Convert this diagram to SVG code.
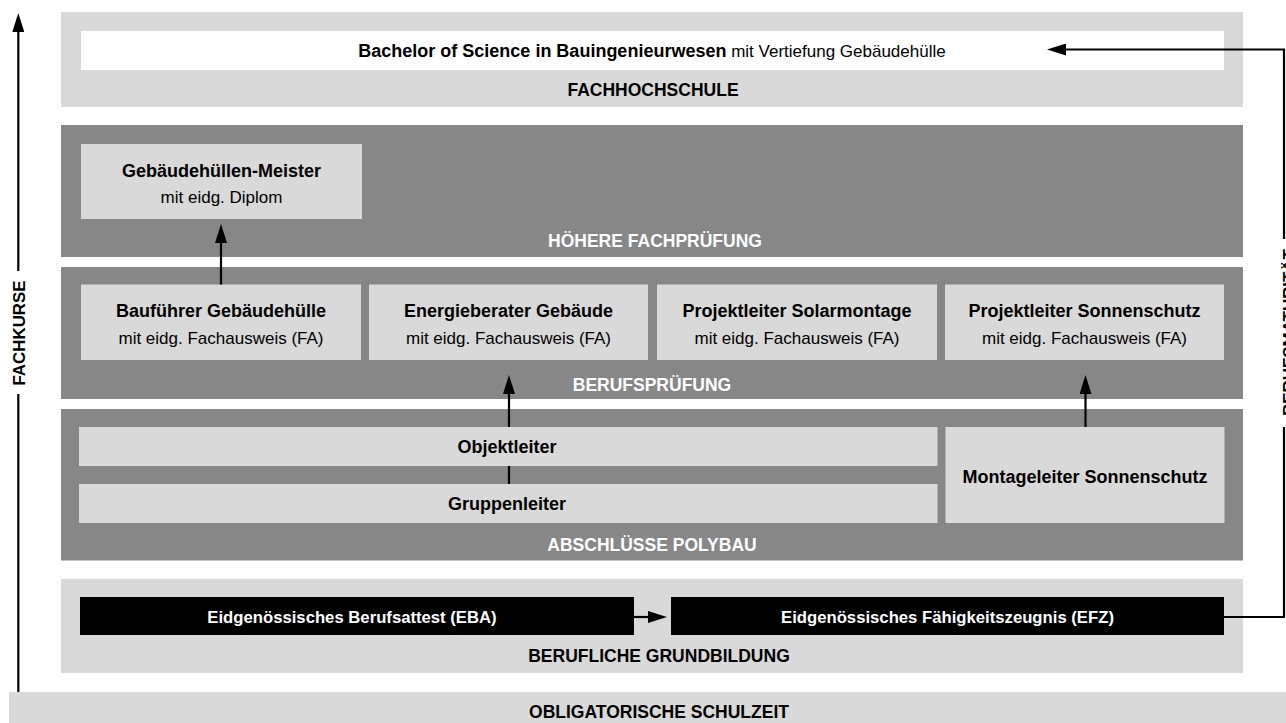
<svg xmlns="http://www.w3.org/2000/svg" width="1286" height="723" viewBox="0 0 1286 723">
  <style>
    .light { fill: #d9d9d9; }
    .dark { fill: #878787; }
    .white { fill: #ffffff; }
    .black { fill: #000000; }
    text { font-family: "Liberation Sans", Arial, sans-serif; text-anchor: middle; }
    .lbl { font-weight: bold; font-size: 17.5px; fill: #000; }
    .lblw { font-weight: bold; font-size: 17.5px; fill: #fff; }
    .ttl { font-weight: bold; font-size: 18px; fill: #000; }
    .sub { font-size: 17px; fill: #000; }
    .wb { font-weight: bold; font-size: 16.7px; fill: #fff; }
    .side { font-weight: bold; font-size: 16.9px; fill: #000; }
    .conn { fill: none; stroke: #000; stroke-width: 2.2; }
  </style>
  <defs>
    <marker id="ah" markerUnits="userSpaceOnUse" markerWidth="20" markerHeight="12" refX="1" refY="6" orient="auto">
      <path d="M0,0 L19,6 L0,12 Z" fill="#000"/>
    </marker>
  </defs>

  <!-- Panels -->
  <g id="fachhochschule">
    <rect class="light" x="61" y="12" width="1182" height="95"/>
    <text class="lbl" x="653" y="96">FACHHOCHSCHULE</text>
  </g>
  <g id="bachelor">
    <rect class="white" x="81" y="31" width="1143" height="39"/>
    <text x="652" y="57" style="font-size:17px"><tspan font-weight="bold" style="font-size:18px">Bachelor of Science in Bauingenieurwesen</tspan> mit Vertiefung Gebäudehülle</text>
  </g>

  <g id="hoehere-fachpruefung">
    <rect class="dark" x="61" y="125" width="1182" height="132"/>
    <text class="lblw" x="655" y="247">HÖHERE FACHPRÜFUNG</text>
  </g>
  <g id="meister">
    <rect class="light" x="81" y="144" width="281" height="75"/>
    <text class="ttl" x="221.5" y="177">Gebäudehüllen-Meister</text>
    <text class="sub" x="221.5" y="203">mit eidg. Diplom</text>
  </g>

  <g id="berufspruefung">
    <rect class="dark" x="61" y="267" width="1182" height="132"/>
    <text class="lblw" x="652" y="391">BERUFSPRÜFUNG</text>
  </g>
  <g id="baufuehrer">
    <rect class="light" x="81" y="284.5" width="280" height="75.5"/>
    <text class="ttl" x="221" y="317">Bauführer Gebäudehülle</text>
    <text class="sub" x="221" y="344">mit eidg. Fachausweis (FA)</text>
  </g>
  <g id="energieberater">
    <rect class="light" x="369" y="284.5" width="279" height="75.5"/>
    <text class="ttl" x="508.5" y="317">Energieberater Gebäude</text>
    <text class="sub" x="508.5" y="344">mit eidg. Fachausweis (FA)</text>
  </g>
  <g id="solarmontage">
    <rect class="light" x="657" y="284.5" width="280" height="75.5"/>
    <text class="ttl" x="797" y="317">Projektleiter Solarmontage</text>
    <text class="sub" x="797" y="344">mit eidg. Fachausweis (FA)</text>
  </g>
  <g id="sonnenschutz">
    <rect class="light" x="945" y="284.5" width="279" height="75.5"/>
    <text class="ttl" x="1084.5" y="317">Projektleiter Sonnenschutz</text>
    <text class="sub" x="1084.5" y="344">mit eidg. Fachausweis (FA)</text>
  </g>

  <g id="abschluesse-polybau">
    <rect class="dark" x="61" y="409" width="1182" height="151.5"/>
    <text class="lblw" x="652" y="550.5">ABSCHLÜSSE POLYBAU</text>
  </g>
  <g id="objektleiter">
    <rect class="light" x="79" y="427" width="858.5" height="39"/>
    <text class="ttl" x="507" y="453.3">Objektleiter</text>
  </g>
  <g id="gruppenleiter">
    <rect class="light" x="79" y="484" width="858.5" height="39"/>
    <text class="ttl" x="507" y="510">Gruppenleiter</text>
  </g>
  <g id="montageleiter">
    <rect class="light" x="945.5" y="427" width="279" height="96"/>
    <text class="ttl" x="1085" y="483.3">Montageleiter Sonnenschutz</text>
  </g>

  <g id="berufliche-grundbildung">
    <rect class="light" x="61" y="579" width="1182" height="94"/>
    <text class="lbl" x="659" y="662">BERUFLICHE GRUNDBILDUNG</text>
  </g>
  <g id="eba">
    <rect class="black" x="80" y="597" width="554" height="38"/>
    <text class="wb" x="352" y="622.7">Eidgenössisches Berufsattest (EBA)</text>
  </g>
  <g id="efz">
    <rect class="black" x="671" y="597" width="553" height="38"/>
    <text class="wb" x="947.5" y="622.7">Eidgenössisches Fähigkeitszeugnis (EFZ)</text>
  </g>

  <g id="obligatorische-schulzeit">
    <rect class="light" x="9" y="692" width="1277" height="31"/>
    <text class="lbl" x="659" y="718">OBLIGATORISCHE SCHULZEIT</text>
  </g>

  <!-- Connectors -->
  <g id="connectors">
    <path class="conn" d="M221,284.5 V242" marker-end="url(#ah)"/>
    <path class="conn" d="M509,427 V393" marker-end="url(#ah)"/>
    <path class="conn" d="M509,466 V484"/>
    <path class="conn" d="M1085.5,427 V393" marker-end="url(#ah)"/>
    <path class="conn" d="M634,617 H649" marker-end="url(#ah)"/>
    <path class="conn" d="M1224,617 H1284 V49.5 H1065" marker-end="url(#ah)"/>
    <path class="conn" d="M18.3,692 V31" marker-end="url(#ah)"/>
  </g>

  <g id="fachkurse">
    <rect class="white" x="12" y="271" width="14" height="123"/>
    <text class="side" transform="translate(25,333) rotate(-90)">FACHKURSE</text>
  </g>
  <g id="berufsmaturitaet">
    <rect class="white" x="1279" y="239" width="7" height="188"/>
    <text class="side" transform="translate(1295,332.5) rotate(-90)">BERUFSMATURITÄT</text>
  </g>
</svg>
